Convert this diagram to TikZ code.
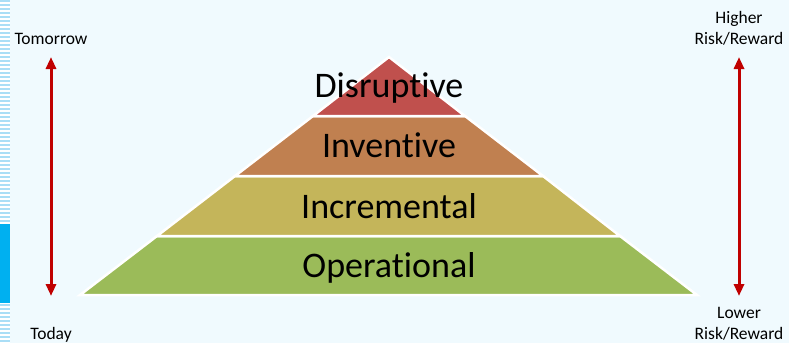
\documentclass[tikz,border=0pt]{standalone}
\usepackage{fontspec}
\setmainfont{Carlito}[Ligatures=CommonOff]
\usetikzlibrary{arrows.meta}
\definecolor{bgc}{RGB}{240,250,254}
\definecolor{stripc}{RGB}{170,222,246}
\definecolor{tabc}{RGB}{0,176,240}
\definecolor{disc}{RGB}{192,80,77}
\definecolor{invc}{RGB}{192,128,80}
\definecolor{incc}{RGB}{196,181,90}
\definecolor{opc}{RGB}{155,187,89}
\definecolor{arrc}{RGB}{192,0,0}
\begin{document}
\begin{tikzpicture}[x=1pt,y=-1pt,
  layer/.style={draw=white,line width=2.5pt,line join=miter},
  biglabel/.style={anchor=base,font=\fontsize{36}{40}\selectfont,inner sep=0pt},
  smalllabel/.style={font=\fontsize{17.5}{21}\selectfont,inner sep=0pt,align=center},
  rangearrow/.style={draw=arrc,line width=3pt,{Triangle[length=12pt,width=10pt]}-{Triangle[length=12pt,width=10pt]}}]
\useasboundingbox (0,0) rectangle (789,343);
\fill[bgc] (0,0) rectangle (789,343);
% left strip
\fill[white] (0,0) rectangle (10,343);
\foreach \k in {0,...,85} {\fill[stripc] (0,{4*\k}) rectangle (10,{4*\k+2});}
\fill[tabc] (0,224) rectangle (10,303);
% pyramid layers
\path[layer,fill=opc] (157,236) -- (620,236) -- (697,295) -- (80,295) -- cycle;
\path[layer,fill=incc] (235,176) -- (543,176) -- (620,236) -- (157,236) -- cycle;
\path[layer,fill=invc] (313,116) -- (465,116) -- (543,176) -- (235,176) -- cycle;
\path[layer,fill=disc] (389,57) -- (465,116) -- (313,116) -- cycle;
\node[biglabel] (dis) at (389,97) {Disruptive};
\node[biglabel] (inv) at (389,157) {Inventive};
\node[biglabel] (inc) at (389,218) {Incremental};
\node[biglabel] (op) at (389,277) {Operational};
% left labels and arrow
\node[smalllabel,anchor=base] (tom) at (51,44) {Tomorrow};
\node[smalllabel,anchor=base] (tod) at (51,339) {Today};
\coordinate (la) at (51,57);
\coordinate (lb) at (51,296);
\draw[rangearrow] (la) -- (lb);
% right labels and arrow
\node[smalllabel,anchor=base] (hi) at (739,23) {Higher};
\node[smalllabel,anchor=base] (hirr) at (739,44) {Risk/Reward};
\node[smalllabel,anchor=base] (lo) at (739,318) {Lower};
\node[smalllabel,anchor=base] (lorr) at (739,339) {Risk/Reward};
\coordinate (ra) at (739,57);
\coordinate (rb) at (739,296);
\draw[rangearrow] (ra) -- (rb);
\end{tikzpicture}
\end{document}
